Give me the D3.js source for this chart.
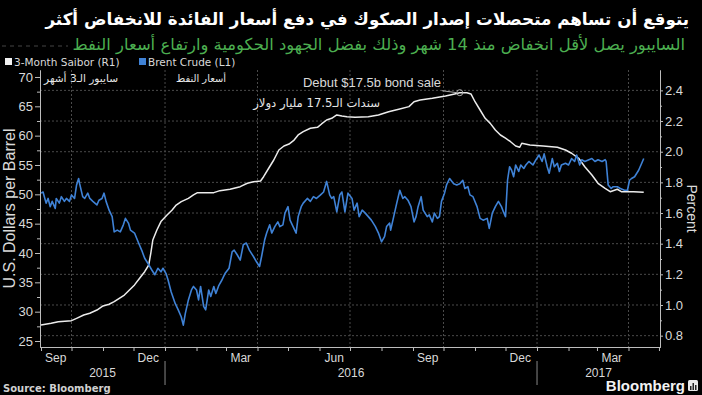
<!DOCTYPE html>
<html>
<head>
<meta charset="utf-8">
<script src="https://cdn.jsdelivr.net/npm/d3@7"></script>
<style>
  html, body { margin: 0; padding: 0; background: #000; }
  svg { display: block; }
</style>
</head>
<body>
<svg id="chart" width="702" height="395"></svg>
<script>
// ---- data ----
const titleText = "يتوقع أن تساهم متحصلات إصدار الصكوك في دفع أسعار الفائدة للانخفاض أكثر";
const subtitleText = "السايبور يصل لأقل انخفاض منذ 14 شهر وذلك بفضل الجهود الحكومية وارتفاع أسعار النفط";
const legendLabels = ["3-Month Saibor (R1)", "Brent Crude (L1)"];
const leftTicks = [25, 30, 35, 40, 45, 50, 55, 60, 65, 70];
const rightTicks = [0.8, 1.0, 1.2, 1.4, 1.6, 1.8, 2.0, 2.2, 2.4];
const monthLabelDates = ["2015-09-15", "2015-12-15", "2016-03-15", "2016-06-15", "2016-09-15", "2016-12-15", "2017-03-15"];
const years = ["2015", "2016", "2017"];

// 3-month Saibor, percent (right axis)
const saiborData = [
  ["2015-09-01",0.870],["2015-09-11",0.881],["2015-09-18",0.891],["2015-10-01",0.898],["2015-10-06",0.913],
  ["2015-10-13",0.935],["2015-10-19",0.946],["2015-10-26",0.967],["2015-11-01",0.994],["2015-11-07",1.005],
  ["2015-11-12",1.022],["2015-11-17",1.044],["2015-11-22",1.065],["2015-11-27",1.098],["2015-12-02",1.131],
  ["2015-12-07",1.174],["2015-12-12",1.217],["2015-12-16",1.261],["2015-12-18",1.337],["2015-12-20",1.424],
  ["2015-12-24",1.489],["2015-12-28",1.544],["2016-01-03",1.587],["2016-01-08",1.620],["2016-01-12",1.652],
  ["2016-01-17",1.674],["2016-01-24",1.696],["2016-01-29",1.718],["2016-02-02",1.733],["2016-02-18",1.733],
  ["2016-02-24",1.746],["2016-03-05",1.755],["2016-03-15",1.772],["2016-03-22",1.794],["2016-03-28",1.804],
  ["2016-04-04",1.809],["2016-04-07",1.837],["2016-04-12",1.892],["2016-04-17",1.946],["2016-04-22",2.011],
  ["2016-04-27",2.037],["2016-05-02",2.050],["2016-05-07",2.076],["2016-05-11",2.109],["2016-05-16",2.131],
  ["2016-05-23",2.153],["2016-05-30",2.159],["2016-06-03",2.181],["2016-06-08",2.207],["2016-06-13",2.218],
  ["2016-06-18",2.240],["2016-06-23",2.233],["2016-06-28",2.228],["2016-07-06",2.224],["2016-07-19",2.228],
  ["2016-07-29",2.240],["2016-08-08",2.261],["2016-08-18",2.277],["2016-08-28",2.294],["2016-09-02",2.326],
  ["2016-09-08",2.337],["2016-09-20",2.348],["2016-10-03",2.363],["2016-10-12",2.377],["2016-10-17",2.385],
  ["2016-10-24",2.385],["2016-10-28",2.377],["2016-11-01",2.326],["2016-11-06",2.272],["2016-11-11",2.218],
  ["2016-11-16",2.185],["2016-11-21",2.142],["2016-11-26",2.109],["2016-12-01",2.088],["2016-12-06",2.065],
  ["2016-12-11",2.037],["2016-12-15",2.029],["2016-12-17",2.055],["2016-12-25",2.044],["2017-01-07",2.037],
  ["2017-01-21",2.029],["2017-01-29",2.011],["2017-02-04",1.990],["2017-02-11",1.957],["2017-02-17",1.902],
  ["2017-02-24",1.848],["2017-03-02",1.794],["2017-03-09",1.761],["2017-03-14",1.739],["2017-03-21",1.755],
  ["2017-03-25",1.739],["2017-04-06",1.739],["2017-04-16",1.735]
];

// Brent crude, USD per barrel (left axis)
const brentData = [
  ["2015-09-01",50.2],["2015-09-03",50.4],["2015-09-06",48.5],["2015-09-08",49.3],["2015-09-10",47.9],
  ["2015-09-12",48.8],["2015-09-15",47.6],["2015-09-16",49.3],["2015-09-19",48.5],["2015-09-21",49.6],
  ["2015-09-24",48.8],["2015-09-26",49.3],["2015-09-29",48.8],["2015-10-01",49.9],["2015-10-04",49.3],
  ["2015-10-06",51.6],["2015-10-08",52.7],["2015-10-09",51.8],["2015-10-12",49.6],["2015-10-14",49.3],
  ["2015-10-17",50.2],["2015-10-19",49.3],["2015-10-22",48.8],["2015-10-26",48.2],["2015-10-28",49.0],
  ["2015-10-31",49.3],["2015-11-02",50.2],["2015-11-04",48.8],["2015-11-07",47.3],["2015-11-10",46.2],
  ["2015-11-12",43.6],["2015-11-15",43.9],["2015-11-18",43.6],["2015-11-21",44.8],["2015-11-23",45.9],
  ["2015-11-26",45.1],["2015-11-28",43.9],["2015-12-02",43.4],["2015-12-06",41.7],["2015-12-09",40.5],
  ["2015-12-12",39.1],["2015-12-16",38.0],["2015-12-19",37.1],["2015-12-22",36.3],["2015-12-25",37.4],
  ["2015-12-28",36.8],["2015-12-30",37.4],["2016-01-02",36.5],["2016-01-04",35.4],["2016-01-07",33.4],
  ["2016-01-11",31.4],["2016-01-14",30.3],["2016-01-17",29.1],["2016-01-19",27.7],["2016-01-21",29.7],
  ["2016-01-24",32.0],["2016-01-27",33.7],["2016-01-29",34.3],["2016-02-01",33.7],["2016-02-03",32.0],
  ["2016-02-05",34.3],["2016-02-08",30.9],["2016-02-10",30.3],["2016-02-13",33.7],["2016-02-15",32.6],
  ["2016-02-18",34.3],["2016-02-20",33.1],["2016-02-23",34.5],["2016-02-26",35.4],["2016-02-29",36.5],
  ["2016-03-04",37.4],["2016-03-07",40.2],["2016-03-09",40.5],["2016-03-12",39.7],["2016-03-15",38.8],
  ["2016-03-18",41.4],["2016-03-21",41.7],["2016-03-24",40.5],["2016-03-28",39.4],["2016-03-31",38.5],
  ["2016-04-03",37.7],["2016-04-05",39.4],["2016-04-08",42.2],["2016-04-10",43.4],["2016-04-13",44.8],
  ["2016-04-15",43.4],["2016-04-18",44.5],["2016-04-21",45.3],["2016-04-23",44.5],["2016-04-26",44.8],
  ["2016-04-28",46.8],["2016-05-01",47.9],["2016-05-03",45.6],["2016-05-06",44.5],["2016-05-09",43.4],
  ["2016-05-11",46.2],["2016-05-14",47.9],["2016-05-16",48.5],["2016-05-20",49.3],["2016-05-23",48.8],
  ["2016-05-26",49.6],["2016-05-29",49.3],["2016-06-02",49.9],["2016-06-05",50.4],["2016-06-08",52.2],
  ["2016-06-11",49.9],["2016-06-13",49.3],["2016-06-15",49.6],["2016-06-18",47.0],["2016-06-21",49.9],
  ["2016-06-23",50.4],["2016-06-26",47.0],["2016-06-29",50.2],["2016-07-03",49.3],["2016-07-05",47.3],
  ["2016-07-08",48.5],["2016-07-10",46.2],["2016-07-13",47.3],["2016-07-16",46.8],["2016-07-19",46.2],
  ["2016-07-22",45.6],["2016-07-26",44.5],["2016-07-29",43.4],["2016-08-01",41.9],["2016-08-04",42.8],
  ["2016-08-06",44.5],["2016-08-09",45.1],["2016-08-10",43.9],["2016-08-13",46.2],["2016-08-16",48.5],
  ["2016-08-19",50.7],["2016-08-22",49.3],["2016-08-24",49.6],["2016-08-27",49.0],["2016-08-30",47.9],
  ["2016-09-02",45.3],["2016-09-04",46.2],["2016-09-06",47.9],["2016-09-09",49.6],["2016-09-11",47.3],
  ["2016-09-15",46.2],["2016-09-17",46.5],["2016-09-20",45.3],["2016-09-22",46.8],["2016-09-25",45.9],
  ["2016-09-27",46.2],["2016-09-29",48.8],["2016-10-02",50.2],["2016-10-04",51.6],["2016-10-07",52.7],
  ["2016-10-11",51.8],["2016-10-14",51.6],["2016-10-17",51.8],["2016-10-20",52.4],["2016-10-22",51.0],
  ["2016-10-25",51.3],["2016-10-27",49.9],["2016-10-30",49.6],["2016-11-03",47.9],["2016-11-06",45.9],
  ["2016-11-09",45.6],["2016-11-13",45.9],["2016-11-15",44.2],["2016-11-18",46.8],["2016-11-21",47.9],
  ["2016-11-24",48.8],["2016-11-27",47.9],["2016-11-29",47.0],["2016-12-01",46.2],["2016-12-03",52.4],
  ["2016-12-05",54.7],["2016-12-07",54.1],["2016-12-09",53.0],["2016-12-11",55.0],["2016-12-14",53.9],
  ["2016-12-16",55.0],["2016-12-19",54.4],["2016-12-21",55.0],["2016-12-24",55.6],["2016-12-28",55.0],
  ["2016-12-31",55.9],["2017-01-03",56.7],["2017-01-06",55.6],["2017-01-08",56.9],["2017-01-11",54.7],
  ["2017-01-13",53.6],["2017-01-16",56.1],["2017-01-18",54.7],["2017-01-21",55.3],["2017-01-23",53.9],
  ["2017-01-25",55.0],["2017-01-29",55.3],["2017-02-01",55.0],["2017-02-04",56.1],["2017-02-07",55.6],
  ["2017-02-09",56.7],["2017-02-12",55.0],["2017-02-14",55.9],["2017-02-17",55.6],["2017-02-21",55.9],
  ["2017-02-24",56.1],["2017-02-27",55.6],["2017-03-02",55.9],["2017-03-06",55.6],["2017-03-09",55.9],
  ["2017-03-10",55.6],["2017-03-12",51.6],["2017-03-15",51.0],["2017-03-17",51.3],["2017-03-21",51.3],
  ["2017-03-24",51.0],["2017-03-28",50.7],["2017-03-31",50.7],["2017-04-02",52.4],["2017-04-04",52.7],
  ["2017-04-07",53.0],["2017-04-11",54.1],["2017-04-14",55.3],["2017-04-16",56.1]
];

// bond sale annotation
const bondSale = { date: "2016-10-17", value: 2.385, label: "Debut $17.5b bond sale", labelAr: "سندات الـ17.5 مليار دولار" };
const seriesLabelsAr = ["سايبور الـ3 أشهر", "أسعار النفط"];

// ---- drawing ----
const parse = d3.timeParse("%Y-%m-%d");
const W = 702, H = 395;
const plot = { left: 40, right: 660, top: 70, bottom: 347 };
const arFont = "'DejaVu Sans', sans-serif";
const latFont = "'Liberation Sans', Arial, sans-serif";
const smallFont = "'DejaVu Sans', sans-serif";
const axisColour = "#bdbdbd";
const labelColour = "#d9d9d9";

// shrink/grow a text's font so it spans the given width
function fitWidth(sel, target) {
  const w = sel.node().getComputedTextLength();
  if (w > 0) sel.attr("font-size", (+sel.attr("font-size")) * target / w);
  return sel;
}

const svg = d3.select("#chart");
svg.append("rect").attr("width", W).attr("height", H).attr("fill", "#000");

const x = d3.scaleTime()
  .domain([parse("2015-08-31"), parse("2017-05-02")])
  .range([plot.left, plot.right]);
const yLeft = d3.scaleLinear().domain([23.98, 71.19]).range([plot.bottom, plot.top]);
const yRight = d3.scaleLinear().domain([0.726, 2.533]).range([plot.bottom, plot.top]);

// gridlines
const grid = svg.append("g");
grid.selectAll(".hgrid").data(rightTicks).enter().append("line")
  .attr("x1", plot.left).attr("x2", plot.right)
  .attr("y1", d => yRight(d)).attr("y2", d => yRight(d))
  .attr("stroke", "#4a4a4a").attr("stroke-width", 1).attr("stroke-dasharray", "2,2");
const quarterStarts = d3.timeMonth.every(3).range(parse("2015-10-01"), parse("2017-05-01"));
grid.selectAll(".vgrid").data(quarterStarts).enter().append("line")
  .attr("x1", d => x(d)).attr("x2", d => x(d))
  .attr("y1", plot.top).attr("y2", plot.bottom)
  .attr("stroke", "#4a4a4a").attr("stroke-width", 1).attr("stroke-dasharray", "2,2");

// left axis
const leftMinor = leftTicks.slice(0, -1).map(d => d + 2.5);
svg.append("g").attr("transform", "translate(" + plot.left + ",0)")
  .call(d3.axisLeft(yLeft).tickValues(leftMinor).tickSize(3).tickSizeOuter(0).tickFormat(""));
svg.append("g").attr("class", "y-left").attr("transform", "translate(" + plot.left + ",0)")
  .call(d3.axisLeft(yLeft).tickValues(leftTicks).tickSize(5).tickSizeOuter(0).tickPadding(2));

// right axis
const rightMinor = rightTicks.slice(0, -1).map(d => d + 0.1);
svg.append("g").attr("transform", "translate(" + plot.right + ",0)")
  .call(d3.axisRight(yRight).tickValues(rightMinor).tickSize(2).tickSizeOuter(0).tickFormat(""));
svg.append("g").attr("class", "y-right").attr("transform", "translate(" + plot.right + ",0)")
  .call(d3.axisRight(yRight).tickValues(rightTicks).tickSize(3).tickSizeOuter(0).tickPadding(2)
    .tickFormat(d3.format(".1f")));

// bottom axis: month ticks + quarter month labels
svg.append("g").attr("transform", "translate(0," + plot.bottom + ")")
  .call(d3.axisBottom(x).ticks(d3.timeMonth.every(1)).tickSize(4).tickSizeOuter(0).tickFormat(""));
svg.append("g").attr("class", "x-axis").attr("transform", "translate(0," + plot.bottom + ")")
  .call(d3.axisBottom(x).tickValues(monthLabelDates.map(parse)).tickSize(0).tickPadding(6)
    .tickFormat(d3.timeFormat("%b")));

// year labels and separators
const yearStart = y => parse(y + "-01-01");
const xMin = x.domain()[0], xMax = x.domain()[1];
svg.selectAll(".year").data(years).enter().append("text")
  .attr("x", d => {
    const a = d3.max([yearStart(d), xMin]);
    const b = d3.min([yearStart(+d + 1), xMax]);
    return (x(a) + x(b)) / 2;
  })
  .attr("y", 377)
  .attr("text-anchor", "middle")
  .attr("font-family", latFont).attr("font-size", 12).attr("fill", labelColour)
  .text(d => d);
svg.selectAll(".ysep").data(years.slice(1)).enter().append("line")
  .attr("x1", d => x(yearStart(d))).attr("x2", d => x(yearStart(d)))
  .attr("y1", 361).attr("y2", 385)
  .attr("stroke", "#888").attr("stroke-width", 1);

// axis styling
svg.selectAll(".domain").attr("stroke", axisColour);
svg.selectAll(".tick line").attr("stroke", axisColour);
svg.selectAll(".tick text").attr("fill", labelColour).attr("font-family", latFont);
svg.selectAll(".y-left .tick text, .y-right .tick text").attr("font-size", 13);
svg.selectAll(".x-axis .tick text").attr("font-size", 12);

// axis titles
svg.append("text")
  .attr("transform", "translate(15," + ((plot.top + plot.bottom) / 2) + ") rotate(-90)")
  .attr("text-anchor", "middle")
  .attr("font-family", latFont).attr("font-size", 16).attr("fill", labelColour)
  .text("U.S. Dollars per Barrel");
svg.append("text")
  .attr("transform", "translate(687," + ((plot.top + plot.bottom) / 2) + ") rotate(90)")
  .attr("text-anchor", "middle")
  .attr("font-family", latFont).attr("font-size", 14).attr("fill", labelColour)
  .text("Percent");

// lines
const toPts = arr => arr.map(d => [parse(d[0]), d[1]]);
svg.append("path").datum(toPts(saiborData))
  .attr("fill", "none").attr("stroke", "#ececec").attr("stroke-width", 1.5)
  .attr("stroke-linejoin", "round")
  .attr("d", d3.line().x(d => x(d[0])).y(d => yRight(d[1])));
svg.append("path").datum(toPts(brentData))
  .attr("fill", "none").attr("stroke", "#3f82d6").attr("stroke-width", 1.6)
  .attr("stroke-linejoin", "round")
  .attr("d", d3.line().x(d => x(d[0])).y(d => yLeft(d[1])));

// bond sale annotation
const bx = x(parse(bondSale.date)), by = yRight(bondSale.value);
svg.append("line").attr("x1", bx - 18).attr("y1", by - 2).attr("x2", bx - 3).attr("y2", by)
  .attr("stroke", "#aaa").attr("stroke-width", 1);
svg.append("circle").attr("cx", bx).attr("cy", by).attr("r", 3)
  .attr("fill", "none").attr("stroke", "#aaa").attr("stroke-width", 1);
svg.append("text").attr("x", 372).attr("y", 87).attr("text-anchor", "middle")
  .attr("font-family", latFont).attr("font-size", 13).attr("fill", labelColour)
  .text(bondSale.label);
fitWidth(svg.append("text").attr("x", 380).attr("y", 107).attr("text-anchor", "end")
  .attr("font-family", arFont).attr("font-size", 11).attr("fill", "#e6e6e6")
  .text(bondSale.labelAr), 127);

// series labels inside plot (Arabic)
fitWidth(svg.append("text").attr("x", 118).attr("y", 82).attr("text-anchor", "end")
  .attr("font-family", arFont).attr("font-size", 11).attr("fill", "#e6e6e6")
  .text(seriesLabelsAr[0]), 74);
fitWidth(svg.append("text").attr("x", 226).attr("y", 82).attr("text-anchor", "end")
  .attr("font-family", arFont).attr("font-size", 11).attr("fill", "#e6e6e6")
  .text(seriesLabelsAr[1]), 50);

// title + subtitle
fitWidth(svg.append("text").attr("x", 689).attr("y", 25).attr("text-anchor", "end")
  .attr("font-family", arFont).attr("font-size", 19).attr("font-weight", "bold").attr("fill", "#fff")
  .text(titleText), 644);
fitWidth(svg.append("text").attr("x", 685).attr("y", 50).attr("text-anchor", "end")
  .attr("font-family", arFont).attr("font-size", 17).attr("fill", "#4caf50")
  .text(subtitleText), 613);
svg.append("line").attr("x1", 2).attr("x2", 68).attr("y1", 46).attr("y2", 46)
  .attr("stroke", "#444").attr("stroke-width", 1).attr("stroke-dasharray", "4,4");

// legend
const legendColours = ["#f2f2f2", "#3f82d6"];
const legendX = [5, 139];
legendLabels.forEach((lab, i) => {
  svg.append("rect").attr("x", legendX[i]).attr("y", 58).attr("width", 7).attr("height", 7)
    .attr("fill", legendColours[i]);
  svg.append("text").attr("x", legendX[i] + 9).attr("y", 65.5)
    .attr("font-family", smallFont).attr("font-size", 10.5).attr("fill", labelColour)
    .text(lab);
});

// footer
svg.append("text").attr("x", 3).attr("y", 392)
  .attr("font-family", smallFont).attr("font-size", 10).attr("font-weight", "bold").attr("fill", "#d0d0d0")
  .text("Source: Bloomberg");
svg.append("text").attr("x", 685).attr("y", 391).attr("text-anchor", "end")
  .attr("font-family", latFont).attr("font-size", 15).attr("font-weight", "bold").attr("fill", "#f2f2f2")
  .text("Bloomberg");
const logo = svg.append("g").attr("transform", "translate(688,380)");
logo.append("rect").attr("width", 10).attr("height", 11).attr("rx", 1.5).attr("fill", "#e8e8e8");
[[2, 6, 4], [4.5, 3, 7], [7, 5, 5]].forEach(b => {
  logo.append("rect").attr("x", b[0]).attr("y", b[1]).attr("width", 1.5).attr("height", b[2]).attr("fill", "#222");
});
</script>
</body>
</html>
